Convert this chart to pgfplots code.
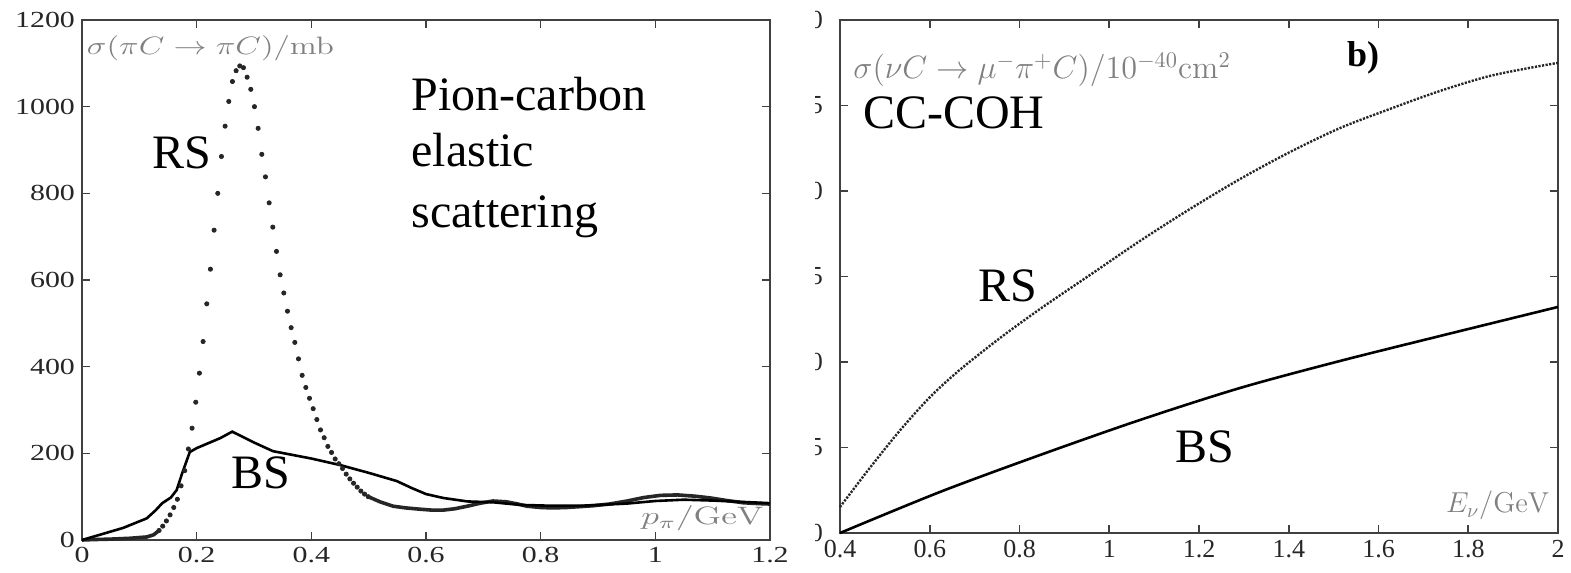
\documentclass[border=0pt]{standalone}
\usepackage[no-math]{fontspec}
\setmainfont{Liberation Serif}
\newfontfamily\stretchserif{Liberation Serif}[FakeStretch=1.3]
\usepackage{pgfplots}
\pgfplotsset{compat=1.18}

\pgfplotstableread{
x y
0.1344 22
0.1408 32
0.1472 44
0.1536 58
0.1600 75
0.1664 94
0.1728 125
0.1792 160
0.1856 210
0.1920 258
0.1984 318
0.2048 385
0.2112 458
0.2176 545
0.2240 625
0.2304 715
0.2368 800
0.2432 885
0.2496 955
0.2560 1012
0.2624 1058
0.2688 1083
0.2752 1094
0.2816 1090
0.2880 1068
0.2944 1040
0.3008 1000
0.3072 950
0.3136 890
0.3200 838
0.3264 778
0.3328 722
0.3392 666
0.3456 612
0.3520 570
0.3584 528
0.3648 490
0.3712 456
0.3776 418
0.3840 380
0.3904 352
0.3968 327
0.4032 303
0.4096 278
0.4160 254
0.4224 236
0.4288 216
0.4352 202
0.4416 187
0.4480 176
0.4544 165
0.4608 152
0.4672 141
0.4736 131
0.4800 122
0.4864 113
0.4928 106
0.4992 100
}\rspeak

\pgfplotstableread{
x y
0 0
0.02 1
0.05 2
0.084 4
0.113 7
0.125 12
0.1344 22
}\rslow

\pgfplotstableread{
x y
0.4992 100
0.52 88
0.5425 78
0.565 74
0.59 71
0.61 69
0.63 69
0.65 72
0.672 78
0.695 85
0.717 90
0.741 88
0.76 83
0.776 78
0.80 75
0.8215 74
0.845 75
0.869 77
0.891 79
0.92 83
0.951 90
0.98 98
1.009 103
1.039 104
1.07 101
1.096 97
1.125 91
1.153 86
1.18 84
1.2 83
}\rshigh

\pgfplotstableread{
x y
0 0
0.031 12
0.072 28
0.113 50
0.128 68
0.14 85
0.155 98
0.165 115
0.175 155
0.188 203
0.2 212
0.241 235
0.262 250
0.3 225
0.333 205
0.4 188
0.45 173
0.5 155
0.549 136
0.575 120
0.6 106
0.63 97
0.672 89
0.717 87
0.764 81
0.82 79
0.869 79
0.95 84
1.0 90
1.05 93
1.1 91
1.15 88
1.2 85
}\bsleft

\pgfplotstableread{
x y
0.4 1.52
0.4669 3.82
0.5337 6.00
0.6006 7.95
0.6674 9.55
0.7565 11.40
0.8457 13.10
0.9571 15.09
1.0685 17.08
1.18 18.95
1.2914 20.70
1.4028 22.28
1.5142 23.68
1.6256 24.80
1.737 25.85
1.8485 26.73
1.9599 27.31
2.0 27.49
}\rsright

\pgfplotstableread{
x y
0.4 0
0.6228 2.40
0.8457 4.56
1.0685 6.61
1.2914 8.48
1.5142 10.06
1.737 11.52
2.0 13.22
}\bsright

\pgfplotsset{
  commonax/.style={
    anchor=south west, scale only axis,
    tick align=inside, major tick length=4pt,
    tick style={black!75, line width=0.8pt},
    axis line style={black!75, line width=1.2pt},
    /pgf/number format/assume math mode=true,
    /pgf/number format/set thousands separator={},
    scaled ticks=false,
    clip=false,
  }
}

\begin{document}
\begin{tikzpicture}[x=1pt,y=1pt]
\path[use as bounding box] (0,0) rectangle (785.5,286.5);

\begin{axis}[commonax, at={(41pt,16.5pt)}, width=344pt, height=260pt,
  xmin=0, xmax=1.2, ymin=0, ymax=1200,
  xtick={0,0.2,0.4,0.6,0.8,1,1.2},
  ytick={0,200,400,600,800,1000,1200},
  tick label style={font=\stretchserif\fontsize{11.5}{13}\selectfont, text=black!85},
]
\addplot[black!85, line width=1.8pt] table[x=x,y=y] {\rslow};
\addplot[black!85, line width=1.8pt] table[x=x,y=y] {\rshigh};
\addplot[only marks, mark=*, mark size=1.05pt, black!85] table[x=x,y=y] {\rspeak};
\addplot[black, line width=1.3pt] table[x=x,y=y] {\bsleft};

\node[anchor=west, text=black!50, inner sep=0pt] at (axis cs:0.008,1135)
  {\scalebox{1.38}[1.05]{\fontsize{12}{14}\selectfont$\sigma(\pi C\rightarrow\pi C)/\mathrm{mb}$}};
\node[anchor=base east, text=black!50, inner sep=0pt] at (axis cs:1.19,35)
  {\scalebox{1.5}[1.05]{\fontsize{12}{14}\selectfont$p_\pi/\mathrm{GeV}$}};
\node[anchor=base west, inner sep=0pt, font=\fontsize{24}{28}\selectfont] at (axis cs:0.574,992) {Pion-carbon};
\node[anchor=base west, inner sep=0pt, font=\fontsize{24}{28}\selectfont] at (axis cs:0.574,861) {elastic};
\node[anchor=base west, inner sep=0pt, font=\fontsize{24}{28}\selectfont] at (axis cs:0.574,722) {scattering};
\node[anchor=base west, inner sep=0pt, font=\fontsize{24}{28}\selectfont] at (axis cs:0.122,858) {RS};
\node[anchor=base west, inner sep=0pt, font=\fontsize{24}{28}\selectfont] at (axis cs:0.26,118) {BS};
\end{axis}

\begin{axis}[commonax, at={(420pt,20pt)}, width=359pt, height=256.5pt,
  xmin=0.4, xmax=2, ymin=0, ymax=30,
  xtick={0.4,0.6,0.8,1,1.2,1.4,1.6,1.8,2},
  ytick={0,5,10,15,20,25,30},
  yticklabels={0,5,0,5,0,5,0},
  tick label style={font=\fontsize{13}{15}\selectfont, text=black!85},
  yticklabel style={xshift=-5pt},
]
\addplot[black!85, line width=1.2pt, dash pattern=on 1.1pt off 0.7pt, smooth] table[x=x,y=y] {\rsright};
\addplot[black, line width=1.3pt, smooth] table[x=x,y=y] {\bsright};

\node[anchor=west, text=black!50, inner sep=0pt] at (axis cs:0.429,27.08)
  {\scalebox{1.12}{\fontsize{14.4}{16}\selectfont$\sigma(\nu C\rightarrow\mu^-\pi^+C)/10^{-40}\mathrm{cm}^2$}};
\node[inner sep=0pt, font=\bfseries\fontsize{18}{20}\selectfont] at (axis cs:1.5655,27.78) {b)};
\node[anchor=base east, text=black!50, inner sep=0pt] at (axis cs:1.982,1.17)
  {\fontsize{14.4}{16}\selectfont$E_\nu/\mathrm{GeV}$};
\node[anchor=base west, inner sep=0pt, font=\fontsize{24}{28}\selectfont] at (axis cs:0.451,23.68) {CC-COH};
\node[anchor=base west, inner sep=0pt, font=\fontsize{24}{28}\selectfont] at (axis cs:0.7075,13.51) {RS};
\node[anchor=base west, inner sep=0pt, font=\fontsize{24}{28}\selectfont] at (axis cs:1.1465,4.15) {BS};
\end{axis}

\fill[white] (396,12) rectangle (407.5,286.5);
\end{tikzpicture}
\end{document}
